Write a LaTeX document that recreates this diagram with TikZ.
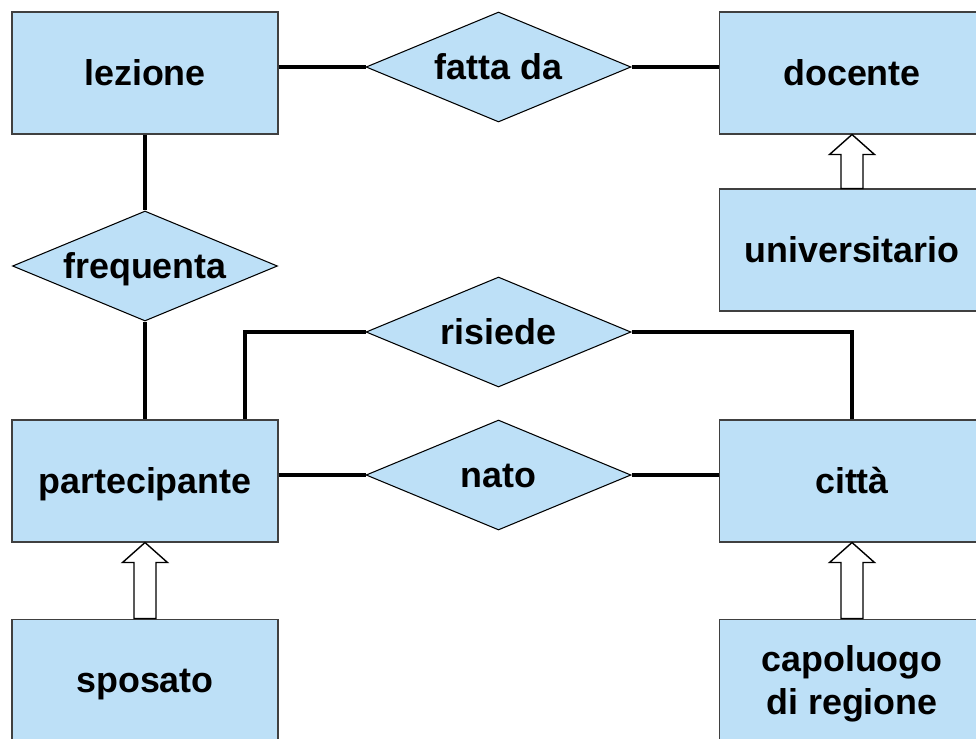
\documentclass[tikz,border=0pt]{standalone}
\usepackage{fontspec}
\setmainfont{Liberation Sans}
\usepackage{tikz}
\usetikzlibrary{shapes.geometric}
\definecolor{entityblue}{RGB}{189,224,247}
\definecolor{edgegrey}{RGB}{64,64,64}

\tikzset{
  entity/.style={rectangle, fill=entityblue, draw=edgegrey, line width=0.6pt,
    minimum width=5.32cm, minimum height=2.44cm, inner sep=0pt,
    text height=14.7pt, text depth=0pt,
    align=center, font=\fontsize{20.4}{24.4}\selectfont\bfseries},
  relation/.style={diamond, aspect=2.4, fill=entityblue, draw=black, line width=0.6pt,
    minimum width=5.3cm, minimum height=2.2cm, inner sep=0pt,
    text height=14.7pt, text depth=0pt,
    font=\fontsize{20.4}{24.4}\selectfont\bfseries},
  link/.style={line width=1.8pt},
  isa/.style={fill=white, draw=black, line width=0.8pt, line join=miter}
}

\begin{document}
\begin{tikzpicture}[x=0.02cm, y=-0.02cm]
  \useasboundingbox (0,0) rectangle (976,738);
  \clip (0,0) rectangle (976,738);

  % entities
  \node[entity] (lezione) at (145,73) {lezione};
  \node[entity] (docente) at (852,73) {docente};
  \node[entity] (universitario) at (852,250) {universitario};
  \node[entity] (partecipante) at (145,481) {partecipante};
  \node[entity] (citta) at (852,481) {città};
  \node[entity] (sposato) at (145,680) {sposato};
  \node[entity, text height=, text depth=-1.5pt] (capoluogo) at (852,680) {capoluogo\\di regione};

  % relationships
  \node[relation] (fatta) at (498.5,67) {fatta da};
  \node[relation] (frequenta) at (145,266) {frequenta};
  \node[relation] (risiede) at (498.5,332) {risiede};
  \node[relation] (nato) at (498.5,475) {nato};

  % links
  \draw[link] (lezione.east |- fatta.west) -- (fatta.west);
  \draw[link] (fatta.east) -- (fatta.east -| docente.west);
  \draw[link] (lezione.south) -- (frequenta.north);
  \draw[link] (frequenta.south) -- (partecipante.north);
  \draw[link] (partecipante.east |- nato.west) -- (nato.west);
  \draw[link] (nato.east) -- (nato.east -| citta.west);
  \draw[link] ([xshift=2cm]partecipante.north) |- (risiede.west);
  \draw[link] (risiede.east) -| (citta.north);

  % generalisations
  \foreach \child/\parent in {sposato/partecipante, universitario/docente, capoluogo/citta}{
    \draw[isa] ([xshift=-0.22cm]\child.north)
      -- ([xshift=-0.22cm,yshift=-0.4cm]\parent.south)
      -- ([xshift=-0.45cm,yshift=-0.4cm]\parent.south)
      -- (\parent.south)
      -- ([xshift=0.45cm,yshift=-0.4cm]\parent.south)
      -- ([xshift=0.22cm,yshift=-0.4cm]\parent.south)
      -- ([xshift=0.22cm]\child.north) -- cycle;
  }
\end{tikzpicture}
\end{document}
